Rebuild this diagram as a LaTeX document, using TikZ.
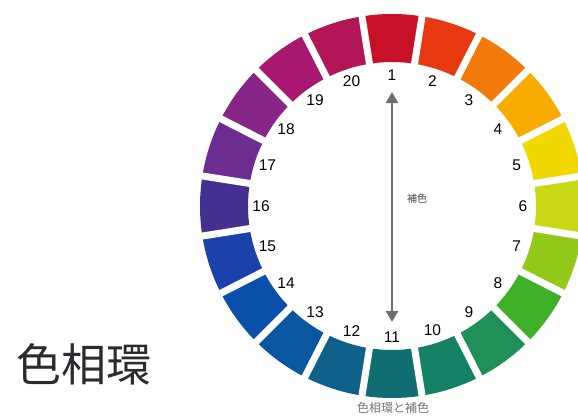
\documentclass[tikz,border=0pt]{standalone}
\usepackage{fontspec}
\setmainfont{Liberation Sans}
\newfontfamily\jp{Noto Sans CJK JP}
\usetikzlibrary{arrows.meta}
\definecolor{s1}{RGB}{200,16,40}
\definecolor{s2}{RGB}{232,56,16}
\definecolor{s3}{RGB}{242,122,10}
\definecolor{s4}{RGB}{248,172,0}
\definecolor{s5}{RGB}{240,216,0}
\definecolor{s6}{RGB}{200,216,20}
\definecolor{s7}{RGB}{146,200,24}
\definecolor{s8}{RGB}{64,176,40}
\definecolor{s9}{RGB}{32,144,86}
\definecolor{s10}{RGB}{20,128,100}
\definecolor{s11}{RGB}{16,110,115}
\definecolor{s12}{RGB}{16,96,140}
\definecolor{s13}{RGB}{10,86,160}
\definecolor{s14}{RGB}{10,80,170}
\definecolor{s15}{RGB}{26,66,170}
\definecolor{s16}{RGB}{68,48,144}
\definecolor{s17}{RGB}{108,44,144}
\definecolor{s18}{RGB}{136,38,136}
\definecolor{s19}{RGB}{168,24,112}
\definecolor{s20}{RGB}{178,22,88}
\definecolor{arrowgray}{RGB}{110,110,110}
\definecolor{titlecol}{RGB}{42,42,48}
\tikzset{
  numlabel/.style={font=\fontsize{15.5}{17}\selectfont, text=black, inner sep=0pt},
  gapline/.style={white, line width=7pt},
}
\begin{document}
\begin{tikzpicture}[x=1pt,y=1pt]
\useasboundingbox (0,0) rectangle (578,416);
\clip (0,0) rectangle (578,416);
\coordinate (C) at (392,210);
\begin{scope}[shift={(C)}]
\foreach \k in {1,...,20}{
  \pgfmathsetmacro{\ta}{90-18*(\k-1)-9}
  \pgfmathsetmacro{\tb}{90-18*(\k-1)+9}
  \pgfmathsetmacro{\tm}{90-18*(\k-1)}
  \fill[s\k] (\ta:144pt) arc[start angle=\ta, end angle=\tb, radius=144pt]
     -- (\tb:192pt) arc[start angle=\tb, end angle=\ta, radius=192pt] -- cycle;
  \node[numlabel] (n\k) at (\tm:131pt) {\k};
}
\foreach \k in {1,...,20}{
  \pgfmathsetmacro{\ta}{90-18*(\k-1)-9}
  \draw[gapline] (\ta:138pt) -- (\ta:200pt);
}
\end{scope}
\coordinate (atop) at (392,324);
\coordinate (abot) at (392,94);
\draw[arrowgray, line width=2pt, {Triangle[width=12pt,length=11pt]}-{Triangle[width=12pt,length=11pt]}] (atop) -- (abot);
\node[font=\jp\fontsize{10}{11}\selectfont, text=black!75] (hoshoku) at (417,217) {補色};
\node[font=\jp\fontsize{12}{14}\selectfont, text=black!55] (caption) at (393,8) {色相環と補色};
\node[font=\jp\fontsize{45}{50}\selectfont, text=titlecol] (title) at (84,52) {色相環};
\end{tikzpicture}
\end{document}
